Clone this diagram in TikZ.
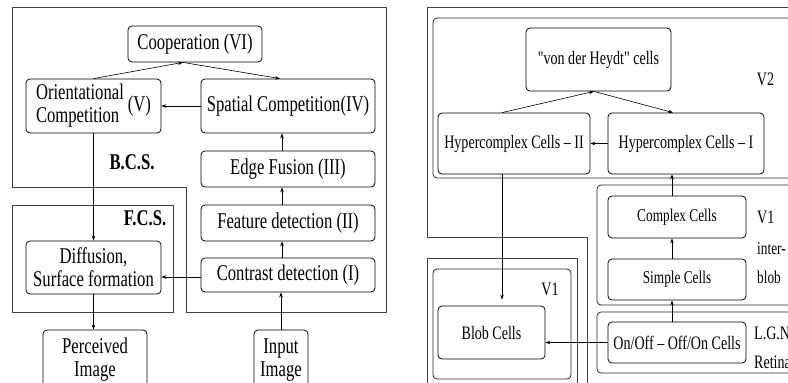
\documentclass[tikz,border=0pt]{standalone}
\usepackage{fontspec}
\setmainfont{Liberation Serif}
\newfontfamily\nrw[FakeStretch=0.74]{Liberation Serif}
\usetikzlibrary{arrows.meta,calc}
\begin{document}
\begin{tikzpicture}[x=1pt,y=-1pt,
  box/.style={draw, rounded corners=4pt, line width=0.8pt, inner sep=0pt, align=center},
  lf/.style={font=\nrw\fontsize{22.5}{23}\selectfont},
  rf/.style={font=\nrw\fontsize{19}{21}\selectfont},
  sf/.style={font=\nrw\fontsize{18}{20}\selectfont},
  frame/.style={draw=black!75, line width=0.8pt},
  rframe/.style={draw=black!85, line width=0.8pt, rounded corners=4pt},
  arr/.style={-{Stealth[length=5pt,width=3.6pt]}, line width=0.6pt},
  lab/.style={inner sep=0pt}
]
\clip (0,0) rectangle (788,383);
% ---------- left panel ----------
\draw[frame] (12,7) -- (386,7) -- (386,312) -- (186,312) -- (186,187) -- (12,187) -- cycle;
\draw[frame] (12,205) rectangle (173,312);
\node[lab,lf] (bcs) at (132,162) {\bfseries B.C.S.};
\node[lab,lf] (fcs) at (145,218) {\bfseries F.C.S.};

\node[box,lf,minimum width=134pt,minimum height=36pt] (coop) at (195,44) {Cooperation (VI)};
\node[box,lf,minimum width=135pt,minimum height=54pt] (orient) at (93.5,106)
  {\begin{tabular}{@{}l@{}}Orientational\\Competition\end{tabular}\hspace{4pt}(V)};
\node[box,lf,minimum width=174pt,minimum height=54pt] (spatial) at (288,106) {Spatial Competition(IV)};
\node[box,lf,minimum width=174pt,minimum height=36pt] (edge) at (288,169) {Edge Fusion (III)};
\node[box,lf,minimum width=174pt,minimum height=36pt] (feat) at (288,223) {Feature detection (II)};
\node[box,lf,minimum width=174pt,minimum height=34pt] (contrast) at (288,275) {Contrast detection (I)};
\node[box,lf,minimum width=135pt,minimum height=53pt] (diff) at (93.5,267.5) {Diffusion,\\Surface formation};
\node[box,lf,minimum width=104pt,minimum height=60pt] (perc) at (95,360) {Perceived\\Image};
\node[box,lf,minimum width=54pt,minimum height=60pt] (input) at (281,360) {Input\\Image};

\coordinate (capex) at ($(coop.south)+(-12,0)$);
\coordinate (lx) at ($(edge.north)+(-6,0)$);
\coordinate (cw) at ($(contrast.west)+(0,2)$);
\draw[arr] (orient.north) -- (capex);
\draw[arr] (capex) -- ($(spatial.north)+(-8,0)$);
\draw[arr] (spatial.west) -- (orient.east);
\draw[arr] (lx) -- (lx |- spatial.south);
\draw[arr] (feat.north -| lx) -- (edge.south -| lx);
\draw[arr] (contrast.north -| lx) -- (feat.south -| lx);
\draw[arr] (input.north) -- (input.north |- contrast.south);
\draw[arr] (cw) -- (cw -| diff.east);
\draw[arr] (orient.south) -- (diff.north);
\draw[arr] (diff.south) -- (diff.south |- perc.north);

% ---------- right panel ----------
\draw[frame] (427,7) -- (800,7) -- (800,400) -- (587,400) -- (587,237) -- (427,237) -- cycle;
\draw[rframe] (433,18) rectangle (800,178);
\draw[rframe] (597,185) rectangle (800,305);
\draw[rframe] (597,312) rectangle (800,373);
\draw[frame] (427,258) rectangle (577,400);
\draw[rframe] (433,269) rectangle (571,379);

\node[box,rf,minimum width=145pt,minimum height=63pt] (vdh) at (598.5,59.5) {"von der Heydt" cells};
\node[box,rf,minimum width=152pt,minimum height=61pt] (hc2) at (514,143.5) {Hypercomplex Cells – II};
\node[box,rf,minimum width=156pt,minimum height=61pt] (hc1) at (686,143.5) {Hypercomplex Cells – I};
\node[box,sf,minimum width=138pt,minimum height=42pt] (complex) at (677,217) {Complex Cells};
\node[box,sf,minimum width=138pt,minimum height=41pt] (simple) at (677,279.5) {Simple Cells};
\node[box,rf,minimum width=138pt,minimum height=41pt] (onoff) at (677,342.5) {On/Off – Off/On Cells};
\node[box,rf,minimum width=107pt,minimum height=53pt] (blob) at (491.5,332.5) {Blob Cells};

\node[lab,rf] (v2) at (765.5,79) {V2};
\node[lab,rf,anchor=west] (v1a) at (757,217) {V1};
\node[lab,sf,anchor=west] (inter) at (757,249) {inter-};
\node[lab,sf,anchor=west] (blobl) at (757,277) {blob};
\node[lab,rf] (v1b) at (550,289) {V1};
\node[lab,rf,anchor=west] (lgn) at (754,333) {L.G.N.};
\node[lab,rf,anchor=west] (ret) at (754,362) {Retina};

\coordinate (vapex) at ($(vdh.south)+(-4.5,0)$);
\coordinate (hc2b) at ($(hc2.south)+(-12,0)$);
\coordinate (cx1) at ($(complex.north)+(-5,0)$);
\draw[arr] ($(hc2.north)+(-12,0)$) -- (vapex);
\draw[arr] (vapex) -- ($(hc1.north)+(-13,0)$);
\draw[arr] (hc1.west) -- (hc2.east);
\draw[arr, shorten >=6pt] (hc2b) -- (hc2b |- blob.north);
\draw[arr] (cx1) -- (cx1 |- hc1.south);
\draw[arr] (simple.north -| cx1) -- (complex.south -| cx1);
\draw[arr] (onoff.north -| cx1) -- (simple.south -| cx1);
\draw[arr] (onoff.west) -- (onoff.west -| blob.east);
\end{tikzpicture}
\end{document}
